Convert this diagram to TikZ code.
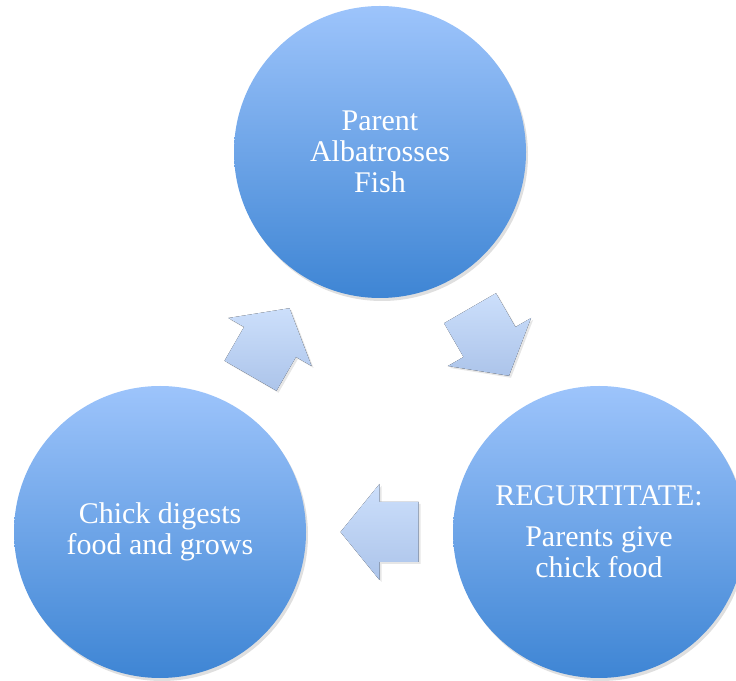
\documentclass[tikz,border=0pt]{standalone}
\usepackage{fontspec}
\setmainfont{Liberation Serif}
\usepackage{tikz}
\usetikzlibrary{calc,shadows}

\definecolor{stageTop}{RGB}{157,196,251}
\definecolor{stageMid}{RGB}{132,180,243}
\definecolor{stageBottom}{RGB}{62,133,212}
\definecolor{arrowTop}{RGB}{204,223,251}
\definecolor{arrowBottom}{RGB}{172,196,234}

\begin{document}
\begin{tikzpicture}[x=1pt,y=1pt,
    stage/.style={circle, minimum size=292pt, inner sep=0pt,
        top color=stageTop, middle color=stageMid, bottom color=stageBottom,
        text=white, align=center, font=\fontsize{30}{31}\selectfont,
        drop shadow={opacity=0.25, shadow xshift=2pt, shadow yshift=-3pt}},
    blockArrow/.style={top color=arrowTop, bottom color=arrowBottom,
        drop shadow={opacity=0.2, shadow xshift=2pt, shadow yshift=-2pt}}]

        % Define block arrow dimensions (half sizes)
        \def\tipLen{39}
        \def\headW{48}
        \def\shaftW{30}

        \useasboundingbox (0,0) rectangle (736,680);
        \clip (0,0) rectangle (736,680);

        % Draw the three stages of the cycle
        \node[stage] (fish) at (380,528) {Parent\\Albatrosses\\Fish};
        \node[stage] (feed) at (599,148) {REGURTITATE:\\[10pt]Parents give\\chick food};
        \node[stage] (grow) at (160,148) {Chick digests\\food and grows};

        % Block arrows half way between the stages
        \foreach \from/\to/\ang in {fish/feed/-60, feed/grow/180, grow/fish/60} {
            \begin{scope}[shift={($(\from)!0.5!(\to)$)}, rotate=\ang]
                \fill[blockArrow] (\tipLen,0) -- (0,\headW) -- (0,\shaftW)
                    -- (-\tipLen,\shaftW) -- (-\tipLen,-\shaftW) -- (0,-\shaftW)
                    -- (0,-\headW) -- cycle;
            \end{scope}
        }

    \end{tikzpicture}
\end{document}
